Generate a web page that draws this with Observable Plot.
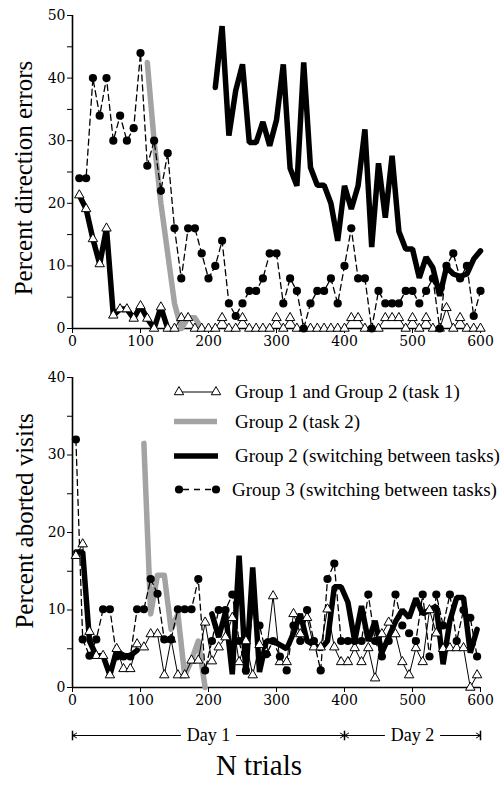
<!DOCTYPE html>
<html><head><meta charset="utf-8">
<script src="https://cdn.jsdelivr.net/npm/d3@7"></script>
<script src="https://cdn.jsdelivr.net/npm/@observablehq/plot@0.6"></script>
<style>
html,body{margin:0;padding:0;background:#fff;}
#wrap{position:relative;width:500px;height:787px;overflow:hidden;font-family:"Liberation Serif","Times New Roman",serif;color:#000;}
.panel{position:absolute;left:0;}
.ylab{position:absolute;transform:translate(-50%,-50%) rotate(-90deg);white-space:nowrap;font-size:25px;}
.xlab{position:absolute;transform:translate(-50%,-50%);white-space:nowrap;font-size:29px;}
#legend{position:absolute;left:0;top:0;pointer-events:none;}
</style></head>
<body><div id="wrap"></div>
<script>
// ---------- data ----------
const trialsTop = [10,20,30,40,50,60,70,80,90,100,110,120,130,140,150,160,170,180,190,200,210,220,230,240,250,260,270,280,290,300,310,320,330,340,350,360,370,380,390,400,410,420,430,440,450,460,470,480,490,500,510,520,530,540,550,560,570,580,590,600];
const group1Top = [21.3,19.1,14.3,10.3,16,2.1,3.1,3.1,1.6,3.6, 1.6,0,3.4,0,0,1.7,1.7,0,0,0, 0,1.7,0,0,1.7,0,0,0,0,1.7, 0,1.7,0,0,0,0,0,0,0,0, 1.7,1.7,0,0,0,1.7,1.7,1.7,0,1.7, 0,1.7,0,0,3.3,0,1.7,0,0,0];
const group3Top = [24,24,40,34,40,30,34,30,32,44, 26,30,22,28,16,8,16,16,12,8, 10,14,4,2,4,6,6,8,12,12, 4,8,6,0,4,6,6,8,4,10, 16,8,8,0,6,4,4,4,6,6, 4,6,8,0,10,12,8,10,2,6];
const switchTopTrialsA = [10,20,30,40,50,60,70,80,90,100,110,120,130,140];
const switchTopA = [21.3,19.1,14.3,10.3,16,2.1,3.1,3.1,1.6,3.6,1.6,0,3.4,0];
const switchTopTrialsB = [210,220,230,240,250,260,270,280,290,300,310,320,330,340,350,360,370,380,390,400,410,420,430,440,450,460,470,480,490,500,510,520,530,540,550,560,570,580,590,600];
const switchTopB = [38.5,48.3,30.8,38,42.2,29.7,29.7,33,29.2,33.3, 42.2,25.6,22.8,42.5,25.7,22.9,22.9,20,14,22.8, 19.1,22.8,31.8,13,26.4,17.7,27.6,15.5,12.7,12.7, 8.1,11.4,9.7,5.2,9.8,8.7,8.3,8.7,11.1,12.4];
const task2TopTrials = [110,120,130,140,150,160,170,180,190];
const task2Top = [42.5,30,20,12,4,0,1.7,1.7,0];

const trialsBottom = [5,15,25,35,45,55,65,75,85,95,105,115,125,135,145,155,165,175,185,195,205,215,225,235,245,255,265,275,285,295,305,315,325,335,345,355,365,375,385,395,405,415,425,435,445,455,465,475,485,495,505,515,525,535,545,555,565,575,585,595];
const group1Bottom = [17,18.5,7.2,4.1,4.1,1.6,5,2.4,2.4,5.6, 5.2,6.9,6.9,1.6,6.2,1.6,1.6,3.5,3.5,8.4, 3.4,5.2,6.5,9,3.3,6,1.6,5.5,4.5,11.8, 3.3,3.3,9.5,6.9,9,5.2,5.2,10.1,5.2,3.3, 3.3,5.1,3.3,5.1,1.2,6.9,8.4,6.9,3.3,1.6, 5.1,3.3,10,7,5,5.1,5.1,5.1,0,1.6];
const group3Bottom = [32,6.2,4.1,6.2,10.1,10.1,4,4,4,10.1, 10.1,14,12.1,6.2,6.2,10.1,10.1,10.1,14,2.2, 6,10,10,12,6,2.2,10,8,4.3,6, 4,2.2,8,6,10,6,2.2,14,16,6, 6,6,6,12,6,4,6,12,8,7, 6,12,4,12,8,12,6,10,9,4];
const switchBottomTrialsA = [5,15,25,35,45,55,65,75,85,95];
const switchBottomA = [17.5,17.5,6,4.1,4.1,1.6,4.8,4.1,4.1,4.8];
const switchBottomTrialsB = [205,215,225,235,245,255,265,275,285,295,305,315,325,335,345,355,365,375,385,395,405,415,425,435,445,455,465,475,485,495,505,515,525,535,545,555,565,575,585,595];
const switchBottomB = [9.5,6.5,9.7,1.7,17,1.7,15.5,2,6,6, 5.5,5,7,9.5,6,5.5,5,6,13,13, 11,6,10.5,6,8.6,4.5,6.5,8.5,10,9, 11.5,9.5,10,10.5,3,8.6,11.6,11.6,4.5,7.5];
const task2BottomTrials = [105,115,125,135,145,155,165,175,185,195];
const task2Bottom = [31.5,9.5,14.5,14.5,7.5,9.5,1.5,3.5,6,0];

const xTicks = [0,100,200,300,400,500,600];
const yTicksTop = [0,10,20,30,40,50];
const yMinorTop = [5,15,25,35,45];
const yTicksBottom = [0,10,20,30,40];
const yMinorBottom = [5,15,25,35];
const dayLabels = ["Day 1","Day 2"];
const dayStart = [0,400];
const dayEnd = [400,600];
const dayBounds = [0,400,600];
const legendLabels = ["Group 1 and Group 2 (task 1)","Group 2 (task 2)","Group 2 (switching between tasks)","Group 3 (switching between tasks)"];
const titleTop = "Percent direction errors";
const titleBottom = "Percent aborted visits";
const titleX = "N trials";

// ---------- helpers ----------
const pts = (xs, ys) => xs.map((x, i) => ({x, y: ys[i]}));
const tickFont = '"DejaVu Serif", serif';
const GRAY = "#a3a3a3";
const TRI_R = 3.5, DOT_R = 4.1;
const vbar = {draw(ctx, size){ const h = Math.sqrt(size / Math.PI) * 1.2; ctx.moveTo(0, -h); ctx.lineTo(0, h); }};

function seriesMarks(t1x, t1y, t3y, swAx, swA, swBx, swB, t2x, t2y) {
  return [
    Plot.line(pts(t2x, t2y), {x: "x", y: "y", stroke: GRAY, strokeWidth: 5.5}),
    Plot.line(pts(swAx, swA), {x: "x", y: "y", stroke: "black", strokeWidth: 5.5, strokeLinejoin: "miter"}),
    Plot.line(pts(swBx, swB), {x: "x", y: "y", stroke: "black", strokeWidth: 5.5, strokeLinejoin: "miter"}),
    Plot.line(pts(t1x, t1y), {x: "x", y: "y", stroke: "black", strokeWidth: 1}),
    Plot.line(pts(t1x, t3y), {x: "x", y: "y", stroke: "black", strokeWidth: 1.3, strokeDasharray: "6,4"}),
    Plot.dot(pts(t1x, t1y), {x: "x", y: "y", symbol: "triangle", r: TRI_R, fill: "white", stroke: "black", strokeWidth: 1}),
    Plot.dot(pts(t1x, t3y), {x: "x", y: "y", r: DOT_R, fill: "black"})
  ];
}

function axes(yTicks, yMinor) {
  return [
    Plot.axisY(yMinor, {tickSize: 5, tickFormat: () => "", label: null}),
    Plot.axisY(yTicks, {tickSize: 5, tickPadding: 2, label: null, fontSize: 14}),
    Plot.axisX(xTicks, {tickSize: 5, tickPadding: 3, label: null, fontSize: 14}),
    Plot.ruleX([0], {stroke: "black", strokeWidth: 1.6}),
    Plot.ruleY([0], {stroke: "black", strokeWidth: 1.6})
  ];
}

const wrap = document.getElementById("wrap");

// ---------- top panel ----------
const topPlot = Plot.plot({
  width: 500, height: 355,
  marginLeft: 72, marginRight: 20, marginTop: 15, marginBottom: 27,
  style: {fontFamily: tickFont, fontSize: "14px", background: "white", color: "black", overflow: "visible"},
  x: {domain: [0, 600]},
  y: {domain: [0, 50]},
  marks: [
    ...axes(yTicksTop, yMinorTop),
    ...seriesMarks(trialsTop, group1Top, group3Top, switchTopTrialsA, switchTopA, switchTopTrialsB, switchTopB, task2TopTrials, task2Top)
  ]
});
const topDiv = document.createElement("div");
topDiv.className = "panel"; topDiv.style.top = "0px";
topDiv.appendChild(topPlot);
wrap.appendChild(topDiv);

// ---------- bottom panel ----------
const dayRows = dayLabels.map((d, i) => ({day: d, a: dayStart[i], b: dayEnd[i], m: (dayStart[i] + dayEnd[i]) / 2}));
const bottomPlot = Plot.plot({
  width: 500, height: 390,
  marginLeft: 72, marginRight: 20, marginTop: 17, marginBottom: 63,
  style: {fontFamily: tickFont, fontSize: "14px", background: "white", color: "black", overflow: "visible"},
  x: {domain: [0, 600]},
  y: {domain: [0, 40]},
  marks: [
    ...axes(yTicksBottom, yMinorBottom),
    ...seriesMarks(trialsBottom, group1Bottom, group3Bottom, switchBottomTrialsA, switchBottomA, switchBottomTrialsB, switchBottomB, task2BottomTrials, task2Bottom),
    Plot.arrow(dayRows, {x1: "m", x2: "a", y1: 0, y2: 0, dy: 48, insetStart: 28, stroke: "black", strokeWidth: 1, headLength: 7}),
    Plot.arrow(dayRows, {x1: "m", x2: "b", y1: 0, y2: 0, dy: 48, insetStart: 28, stroke: "black", strokeWidth: 1, headLength: 7}),
    Plot.dot(dayBounds, {x: d => d, y: 0, dy: 48, symbol: vbar, r: 4, stroke: "black", strokeWidth: 1.5, fill: "none"}),
    Plot.text(dayRows, {x: "m", y: 0, dy: 48, text: "day", fontSize: 18, fontFamily: "Liberation Serif", fill: "black"})
  ]
});
const botDiv = document.createElement("div");
botDiv.className = "panel"; botDiv.style.top = "360px";
botDiv.appendChild(bottomPlot);
wrap.appendChild(botDiv);

// ---------- titles ----------
function addLabel(cls, text, x, y) {
  const d = document.createElement("div");
  d.className = cls; d.textContent = text;
  d.style.left = x + "px"; d.style.top = y + "px";
  wrap.appendChild(d);
}
addLabel("ylab", titleTop, 24, 178);
addLabel("ylab", titleBottom, 25, 521);
addLabel("xlab", titleX, 259, 765);

// ---------- legend ----------
const leg = d3.select(wrap).append("svg").attr("id", "legend").attr("width", 500).attr("height", 787);
const rowY = [392, 421.5, 456, 489.5];
const sx0 = 179, sx1 = 216;
const g = leg.append("g");
g.append("line").attr("x1", sx0).attr("x2", sx1).attr("y1", rowY[0]).attr("y2", rowY[0]).attr("stroke", "black").attr("stroke-width", 1);
[sx0, sx1].forEach(x => g.append("path").attr("d", d3.symbol(d3.symbolTriangle, Math.PI * TRI_R * TRI_R)()).attr("transform", `translate(${x},${rowY[0]})`).attr("fill", "white").attr("stroke", "black"));
g.append("line").attr("x1", sx0 - 5).attr("x2", sx1 + 1).attr("y1", rowY[1]).attr("y2", rowY[1]).attr("stroke", GRAY).attr("stroke-width", 5.5);
g.append("line").attr("x1", sx0 - 5).attr("x2", sx1 + 2).attr("y1", rowY[2]).attr("y2", rowY[2]).attr("stroke", "black").attr("stroke-width", 5.5);
g.append("line").attr("x1", sx0).attr("x2", sx1).attr("y1", rowY[3]).attr("y2", rowY[3]).attr("stroke", "black").attr("stroke-width", 1.3).attr("stroke-dasharray", "6,5").attr("stroke-dashoffset", -4);
[sx0, sx1].forEach(x => g.append("circle").attr("cx", x).attr("cy", rowY[3]).attr("r", DOT_R).attr("fill", "black"));
legendLabels.forEach((t, i) => {
  g.append("text").attr("x", i === 3 ? 232 : 235).attr("y", rowY[i]).attr("dy", "0.33em")
    .attr("font-family", '"Liberation Serif", serif').attr("font-size", 19).attr("fill", "black").text(t);
});
</script>
</body></html>
